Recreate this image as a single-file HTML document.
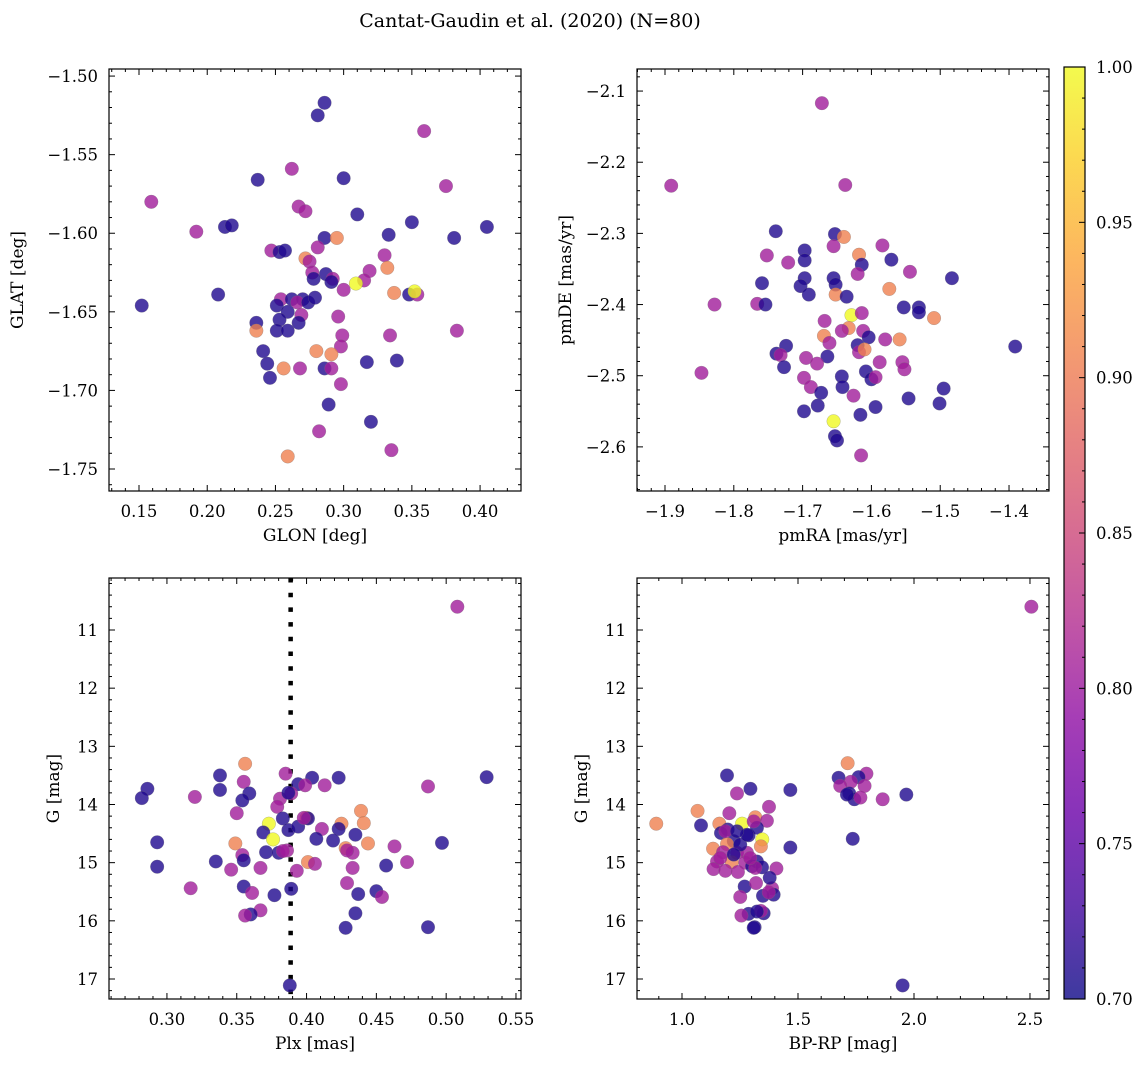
<!DOCTYPE html>
<html><head><meta charset="utf-8"><style>
body{margin:0;background:#fff;}
svg text{font-family:"DejaVu Serif","Liberation Serif",serif;fill:#000;}
</style></head><body>
<svg id="fig" width="1148" height="1067" xmlns="http://www.w3.org/2000/svg">
<rect width="1148" height="1067" fill="#fff"/>
<text x="530" y="27" font-size="19" text-anchor="middle">Cantat-Gaudin et al. (2020) (N=80)</text>
</svg>
<script>
// Panel 1: GLON vs GLAT
const p1x=[.286,.281,.359,.262,.237,.300,.375,.159,.267,.272,.310,.192,.213,.218,.350,.405,.286,.295,.333,.381,.247,.253,.257,.281,.272,.275,.330,.332,.277,.287,.278,.292,.291,.319,.315,.309,.300,.337,.348,.354,.352,.208,.152,.254,.262,.270,.266,.274,.279,.251,.259,.269,.253,.267,.236,.236,.251,.259,.296,.299,.298,.334,.383,.241,.280,.291,.244,.256,.268,.286,.291,.317,.339,.246,.298,.289,.320,.282,.259,.335];
const p1y=[-1.517,-1.525,-1.535,-1.559,-1.566,-1.565,-1.570,-1.580,-1.583,-1.586,-1.588,-1.599,-1.596,-1.595,-1.593,-1.596,-1.603,-1.603,-1.601,-1.603,-1.611,-1.612,-1.611,-1.609,-1.616,-1.618,-1.614,-1.622,-1.625,-1.626,-1.629,-1.629,-1.631,-1.624,-1.630,-1.632,-1.636,-1.638,-1.639,-1.639,-1.637,-1.639,-1.646,-1.642,-1.642,-1.642,-1.644,-1.644,-1.641,-1.646,-1.650,-1.652,-1.655,-1.657,-1.657,-1.662,-1.662,-1.662,-1.653,-1.665,-1.672,-1.665,-1.662,-1.675,-1.675,-1.677,-1.683,-1.686,-1.686,-1.686,-1.686,-1.682,-1.681,-1.692,-1.696,-1.709,-1.720,-1.726,-1.742,-1.738];
const p1c="ddppddpppp"+"dpdddddodd"+"pddpoppopd"+"dpdppypodp"+"yddpddpddd"+"dpdddoddpp"+"pppdoodopd"+"pdddpddpop";
// Panel 2: pmRA vs pmDE
const p2x=[-1.672,-1.891,-1.638,-1.739,-1.653,-1.640,-1.655,-1.584,-1.697,-1.697,-1.752,-1.721,-1.618,-1.614,-1.571,-1.620,-1.544,-1.483,-1.759,-1.697,-1.703,-1.655,-1.652,-1.691,-1.652,-1.636,-1.574,-1.828,-1.766,-1.754,-1.553,-1.531,-1.531,-1.509,-1.629,-1.614,-1.668,-1.633,-1.643,-1.612,-1.669,-1.604,-1.580,-1.559,-1.661,-1.620,-1.618,-1.610,-1.724,-1.738,-1.732,-1.391,-1.664,-1.695,-1.679,-1.727,-1.588,-1.555,-1.552,-1.847,-1.608,-1.600,-1.594,-1.698,-1.643,-1.642,-1.688,-1.673,-1.626,-1.495,-1.546,-1.501,-1.678,-1.594,-1.698,-1.616,-1.655,-1.653,-1.650,-1.615];
const p2y=[-2.117,-2.233,-2.232,-2.297,-2.301,-2.305,-2.318,-2.317,-2.324,-2.338,-2.331,-2.341,-2.330,-2.344,-2.337,-2.357,-2.354,-2.363,-2.370,-2.363,-2.374,-2.363,-2.372,-2.386,-2.386,-2.389,-2.378,-2.400,-2.399,-2.400,-2.404,-2.404,-2.411,-2.419,-2.415,-2.412,-2.423,-2.433,-2.437,-2.437,-2.444,-2.446,-2.449,-2.449,-2.454,-2.457,-2.467,-2.463,-2.458,-2.469,-2.471,-2.459,-2.473,-2.475,-2.483,-2.488,-2.481,-2.481,-2.491,-2.496,-2.494,-2.505,-2.502,-2.503,-2.501,-2.516,-2.516,-2.524,-2.528,-2.518,-2.532,-2.539,-2.542,-2.544,-2.550,-2.555,-2.564,-2.585,-2.591,-2.612];
const p2c="pppddoppdd"+"ppoddppddd"+"ddddodoppd"+"dddoyppopp"+"odpopdpodd"+"pddppdpppp"+"ddppddpdpd"+"ddddddyddp";
// Panel 3: Plx vs G
const p3x=[.508,.356,.338,.385,.404,.423,.529,.355,.394,.399,.413,.487,.286,.282,.320,.338,.359,.354,.389,.381,.379,.350,.439,.383,.400,.401,.441,.425,.373,.387,.394,.411,.423,.369,.435,.376,.407,.419,.293,.349,.444,.497,.463,.428,.433,.371,.380,.386,.354,.355,.335,.401,.406,.472,.293,.346,.367,.393,.433,.457,.429,.317,.355,.361,.377,.389,.437,.450,.454,.367,.360,.356,.435,.428,.487,.388,.398,.387,.383,.429];
const p3y=[10.60,13.30,13.50,13.47,13.54,13.54,13.53,13.61,13.65,13.67,13.67,13.69,13.73,13.89,13.87,13.75,13.81,13.93,13.81,13.90,14.04,14.15,14.11,14.24,14.23,14.24,14.32,14.33,14.33,14.44,14.38,14.42,14.42,14.48,14.52,14.60,14.59,14.62,14.65,14.67,14.67,14.66,14.72,14.75,14.83,14.82,14.83,14.79,14.87,14.96,14.98,14.99,15.02,14.99,15.07,15.12,15.09,15.14,15.09,15.05,15.35,15.44,15.41,15.52,15.56,15.45,15.54,15.49,15.59,15.82,15.89,15.91,15.87,16.12,16.11,17.11,14.23,13.80,14.80,14.79];
const p3c="podpdddpdp"+"ppddpdddpp"+"ppododooyd"+"dpdddydddo"+"odpopddppd"+"doppdppppd"+"ppdpddddpp"+"dpddddpdpp";
// Panel 4: BP-RP vs G
const p4x=[2.506,1.714,1.194,1.675,1.795,1.761,1.728,1.682,1.787,1.295,1.467,1.237,1.721,1.743,1.769,1.865,1.967,1.067,1.204,1.375,1.316,1.366,0.889,1.082,1.161,1.259,1.197,1.168,1.287,1.323,1.346,1.340,1.223,1.194,1.134,1.177,1.237,1.280,1.467,1.736,1.151,1.215,1.273,1.323,1.302,1.345,1.136,1.187,1.241,1.407,1.270,1.319,1.388,1.395,1.349,1.374,1.251,1.287,1.256,1.352,1.340,1.313,1.951,1.165,1.251,1.316,1.280,1.223,1.294,1.187,1.309,1.378,1.323,1.711,1.309,1.237];
const p4y=[10.60,13.29,13.50,13.54,13.47,13.53,13.61,13.68,13.68,13.73,13.75,13.81,13.81,13.91,13.88,13.91,13.83,14.11,14.15,14.04,14.22,14.28,14.33,14.36,14.33,14.33,14.43,14.49,14.53,14.40,14.60,14.72,14.63,14.68,14.76,14.82,14.83,14.83,14.74,14.59,14.98,14.99,15.00,14.98,15.06,15.08,15.11,15.14,15.16,15.10,15.41,15.35,15.44,15.55,15.57,15.51,15.59,15.88,15.91,15.87,15.83,16.11,17.11,14.92,14.69,15.09,14.52,14.86,14.92,14.46,14.29,15.26,15.84,13.83,16.12,14.46];
const p4c="poddpdpppd"+"dpddppdopp"+"opodoydddd"+"yodoopppdd"+"popdddpppp"+"dppddppdpd"+"pddpdpddpp"+"pddddd";
const probMap={d:0.71,p:0.805,o:0.905,y:1.0};
const cbTicks=["0.70","0.75","0.80","0.85","0.90","0.95","1.00"];

const plasma=["#0d0887","#41049d","#6a00a8","#8f0da4","#b12a90","#cc4778","#e16462","#f2844b","#fca636","#fcce25","#f0f921"];
function hex(h){return [1,3,5].map(i=>parseInt(h.substr(i,2),16));}
function cmap(v){let t=(v-0.7)/0.3;t=Math.max(0,Math.min(1,t));const s=t*10,i=Math.min(9,Math.floor(s)),f=s-i;const a=hex(plasma[i]),b=hex(plasma[i+1]);return `rgb(${a.map((x,k)=>Math.round(x+(b[k]-x)*f)).join(',')})`;}
const NS="http://www.w3.org/2000/svg";
const svg=document.getElementById('fig');
function el(tag,attrs,parent){const e=document.createElementNS(NS,tag);for(const k in attrs)e.setAttribute(k,attrs[k]);(parent||svg).appendChild(e);return e;}
function fmt(v,d){return (v<0?"\u2212":"")+Math.abs(v).toFixed(d);}

function panel(cfg){
  const g=el('g',{});
  
  
  const {L,T,R,B}=cfg;
  const sx=v=>L+(v-cfg.x0)/(cfg.x1-cfg.x0)*(R-L);
  const sy=v=>T+(v-cfg.y0)/(cfg.y1-cfg.y0)*(B-T);
  const tg=el('g',{stroke:'#000','stroke-width':1},g);
  const xs=Math.min(cfg.x0,cfg.x1),xe=Math.max(cfg.x0,cfg.x1);
  for(let k=Math.ceil(xs/cfg.xmin-1e-6);k*cfg.xmin<=xe+1e-9;k++){
    const v=k*cfg.xmin,x=sx(v);const major=Math.abs(v/cfg.xmaj-Math.round(v/cfg.xmaj))<1e-6;const len=major?6:3;
    el('line',{x1:x,x2:x,y1:B,y2:B-len},tg);el('line',{x1:x,x2:x,y1:T,y2:T+len},tg);
    if(major){const t=el('text',{x:x,y:B+26,'font-size':16.5,'text-anchor':'middle'},g);t.textContent=fmt(v,cfg.xd);
      
      }
  }
  const ys=Math.min(cfg.y0,cfg.y1),ye=Math.max(cfg.y0,cfg.y1);
  for(let k=Math.ceil(ys/cfg.ymin-1e-6);k*cfg.ymin<=ye+1e-9;k++){
    const v=k*cfg.ymin,y=sy(v);const major=Math.abs(v/cfg.ymaj-Math.round(v/cfg.ymaj))<1e-6;const len=major?6:3;
    el('line',{x1:L,x2:L+len,y1:y,y2:y},tg);el('line',{x1:R,x2:R-len,y1:y,y2:y},tg);
    if(major){const t=el('text',{x:L-11,y:y+6,'font-size':16.5,'text-anchor':'end'},g);t.textContent=fmt(v,cfg.yd);
      
      }
  }
  if(cfg.vline){const l=el('line',{x1:sx(cfg.vline),x2:sx(cfg.vline),y1:T,y2:B,stroke:'#000','stroke-width':4.5,'stroke-dasharray':'4.5 10.2'},g);
    
    }
  const pg=el('g',{},g);
  for(let i=0;i<cfg.xv.length;i++){
    const pr=probMap[cfg.cs[i]]||0.8;
    const c=el('circle',{cx:sx(cfg.xv[i]),cy:sy(cfg.yv[i]),r:6.8,fill:cmap(pr),'fill-opacity':0.8,stroke:'#777','stroke-opacity':0.5,'stroke-width':0.5},pg);
    
    
  }
  const fr=el('rect',{x:L,y:T,width:R-L,height:B-T,fill:'none',stroke:'#000','stroke-width':1.2},g);
  
  
  const xl=el('text',{x:(L+R)/2,y:B+50,'font-size':17,'text-anchor':'middle'},g);xl.textContent=cfg.xl;
  
  
  const cy=(T+B)/2,cx=cfg.ylx;
  const yl=el('text',{x:cx,y:cy,'font-size':17,'text-anchor':'middle',transform:`rotate(-90 ${cx} ${cy})`},g);yl.textContent=cfg.yl;
  
  
}
panel({name:'glon-glat-panel',L:109,T:69,R:521,B:491,x0:0.128,x1:0.430,y0:-1.4955,y1:-1.764,xmaj:0.05,xmin:0.01,ymaj:0.05,ymin:0.01,xd:2,yd:2,xv:p1x,yv:p1y,cs:p1c,xl:'GLON [deg]',yl:'GLAT [deg]',ylx:23});
panel({name:'proper-motion-panel',L:637,T:69,R:1049,B:491,x0:-1.9407,x1:-1.3419,y0:-2.069,y1:-2.662,xmaj:0.1,xmin:0.02,ymaj:0.1,ymin:0.02,xd:1,yd:1,xv:p2x,yv:p2y,cs:p2c,xl:'pmRA [mas/yr]',yl:'pmDE [mas/yr]',ylx:571});
panel({name:'parallax-magnitude-panel',L:109,T:578,R:521,B:999,x0:0.2585,x1:0.5536,y0:10.106,y1:17.344,xmaj:0.05,xmin:0.01,ymaj:1,ymin:0.2,xd:2,yd:0,xv:p3x,yv:p3y,cs:p3c,xl:'Plx [mas]',yl:'G [mag]',ylx:59,vline:0.3886});
panel({name:'color-magnitude-panel',L:637,T:578,R:1049,B:999,x0:0.806,x1:2.582,y0:10.106,y1:17.344,xmaj:0.5,xmin:0.1,ymaj:1,ymin:0.2,xd:1,yd:0,xv:p4x,yv:p4y,cs:p4c,xl:'BP-RP [mag]',yl:'G [mag]',ylx:587});

// colorbar
const cb=el('g',{});


const defs=el('defs',{},cb);
const lg=el('linearGradient',{id:'cbg',x1:0,y1:1,x2:0,y2:0},defs);
for(let i=0;i<=20;i++){el('stop',{offset:i/20,'stop-color':cmap(0.7+0.3*i/20),'stop-opacity':0.8},lg);}
const CT=67,CB=999,CL=1064,CR=1085;
el('rect',{x:CL,y:CT,width:CR-CL,height:CB-CT,fill:'url(#cbg)',stroke:'#000','stroke-width':1.2},cb);
for(let k=70;k<=100;k++){const y=CB-(k-70)/30*(CB-CT);const major=k%5===0;
  el('line',{x1:CR,x2:CR-(major?6:3),y1:y,y2:y,stroke:'#000','stroke-width':1},cb);}
cbTicks.forEach((s,i)=>{const y=CB-i/(cbTicks.length-1)*(CB-CT);const t=el('text',{x:1096,y:y+6,'font-size':16.5},cb);t.textContent=s;
  
  });
</script>
</body></html>
